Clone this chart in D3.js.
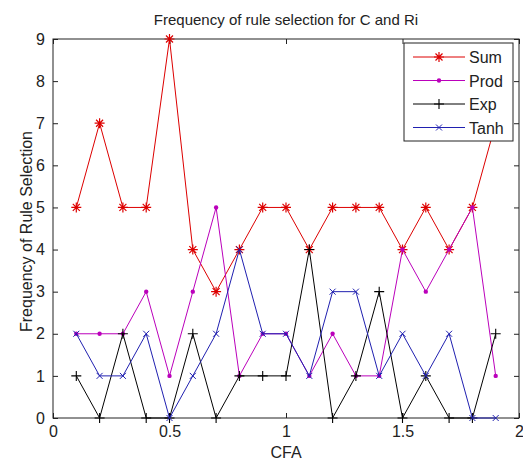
<!doctype html>
<html lang="en">
<head>
<meta charset="utf-8">
<title>Frequency of rule selection</title>
<script src="https://cdn.jsdelivr.net/npm/d3@7"></script>
<style>
  body { margin: 0; background: #fff; }
  text { font-family: "Liberation Sans", Arial, sans-serif; fill: #222; }
</style>
</head>
<body>
<script>
// data
var cfa = [0.1, 0.2, 0.3, 0.4, 0.5, 0.6, 0.7, 0.8, 0.9, 1.0, 1.1, 1.2, 1.3, 1.4, 1.5, 1.6, 1.7, 1.8, 1.9];
var sumVals  = [5, 7, 5, 5, 9, 4, 3, 4, 5, 5, 4, 5, 5, 5, 4, 5, 4, 5, 7];
var prodVals = [2, 2, 2, 3, 1, 3, 5, 1, 2, 2, 1, 2, 1, 1, 4, 3, 4, 5, 1];
var expVals  = [1, 0, 2, 0, 0, 2, 0, 1, 1, 1, 4, 0, 1, 3, 0, 1, 0, 0, 2];
var tanhVals = [2, 1, 1, 2, 0, 1, 2, 4, 2, 2, 1, 3, 3, 1, 2, 1, 2, 0, 0];
var seriesNames = ["Sum", "Prod", "Exp", "Tanh"];
var xTicks = [0, 0.5, 1, 1.5, 2];
var xTickLabels = ["0", "0.5", "1", "1.5", "2"];
var yTicks = [0, 1, 2, 3, 4, 5, 6, 7, 8, 9];

var W = 523, H = 466;
var margin = {top: 39, right: 4, bottom: 48, left: 53};
var plotW = 519 - margin.left, plotH = 418 - margin.top;

var series = [
  {name: "Sum",  vals: sumVals,  color: "#dd0000", marker: "star"},
  {name: "Prod", vals: prodVals, color: "#bb00bb", marker: "dot"},
  {name: "Exp",  vals: expVals,  color: "#000000", marker: "plus"},
  {name: "Tanh", vals: tanhVals, color: "#2020b0", marker: "cross"}
];

var svg = d3.select("body").append("svg")
    .attr("width", W).attr("height", H);

var x = d3.scaleLinear().domain([0, 2]).range([0, plotW]);
var y = d3.scaleLinear().domain([0, 9]).range([plotH, 0]);

var g = svg.append("g").attr("transform", "translate(" + margin.left + "," + margin.top + ")");

// axes, ticks pointing inward like matlab
var fontSize = "16px";
var xAxis = g.append("g").attr("transform", "translate(0," + plotH + ")")
    .call(d3.axisBottom(x).tickValues(xTicks).tickFormat((d, i) => xTickLabels[i])
          .tickSizeInner(-5).tickSizeOuter(0).tickPadding(8));
var yAxis = g.append("g")
    .call(d3.axisLeft(y).tickValues(yTicks).tickFormat(d3.format("d"))
          .tickSizeInner(-5).tickSizeOuter(0).tickPadding(8));
g.append("g")
    .call(d3.axisTop(x).tickValues(xTicks).tickFormat("").tickSizeInner(-5).tickSizeOuter(0));
g.append("g").attr("transform", "translate(" + plotW + ",0)")
    .call(d3.axisRight(y).tickValues(yTicks).tickFormat("").tickSizeInner(-5).tickSizeOuter(0));

g.selectAll(".domain").remove();
g.selectAll(".tick line").attr("stroke", "#222");
g.selectAll(".tick text").style("font-size", fontSize).attr("fill", "#222");

g.append("rect")
    .attr("width", plotW).attr("height", plotH)
    .attr("fill", "none").attr("stroke", "#222").attr("stroke-width", 1);

// lines + markers
var line = d3.line().x((d, i) => x(cfa[i])).y(d => y(d));

function drawMarker(sel, type, color) {
  if (type == "star") {
    sel.append("path").attr("d", "M-5,0H5M0,-5V5M-3.5,-3.5L3.5,3.5M-3.5,3.5L3.5,-3.5")
       .attr("stroke", color).attr("stroke-width", 1.2).attr("fill", "none");
  } else if (type == "dot") {
    sel.append("circle").attr("r", 2.2).attr("fill", color);
  } else if (type == "plus") {
    sel.append("path").attr("d", "M-5,0H5M0,-5V5")
       .attr("stroke", color).attr("stroke-width", 1.1).attr("fill", "none");
  } else if (type == "cross") {
    sel.append("path").attr("d", "M-3,-3L3,3M-3,3L3,-3")
       .attr("stroke", color).attr("stroke-width", 1).attr("fill", "none");
  }
}

series.forEach(function(s) {
  g.append("path")
   .datum(s.vals)
   .attr("d", line)
   .attr("fill", "none")
   .attr("stroke", s.color)
   .attr("stroke-width", 1);

  g.selectAll(null)
   .data(s.vals)
   .enter()
   .append("g")
   .attr("transform", (d, i) => "translate(" + x(cfa[i]) + "," + y(d) + ")")
   .each(function() { drawMarker(d3.select(this), s.marker, s.color); });
});

// legend
var lg = svg.append("g").attr("transform", "translate(404,43)");
lg.append("rect").attr("width", 109).attr("height", 98)
  .attr("fill", "#fff").attr("stroke", "#222");
series.forEach(function(s, i) {
  var row = lg.append("g").attr("transform", "translate(0," + (14 + i * 23.5) + ")");
  row.append("line").attr("x1", 9).attr("x2", 61).attr("stroke", s.color);
  drawMarker(row.append("g").attr("transform", "translate(35,0)"), s.marker, s.color);
  row.append("text").attr("x", 65).attr("y", 6).style("font-size", fontSize).text(seriesNames[i]);
});

// title and axis labels
svg.append("text")
   .attr("x", margin.left + plotW / 2).attr("y", 25)
   .attr("text-anchor", "middle").style("font-size", "15px")
   .text("Frequency of rule selection for C and Ri");

svg.append("text")
   .attr("x", margin.left + plotW / 2).attr("y", 458)
   .attr("text-anchor", "middle").style("font-size", fontSize)
   .text("CFA");

svg.append("text")
   .attr("transform", "translate(32," + (margin.top + plotH / 2 + 3) + ") rotate(-90)")
   .attr("text-anchor", "middle").style("font-size", fontSize)
   .text("Frequency of Rule Selection");
</script>
</body>
</html>
